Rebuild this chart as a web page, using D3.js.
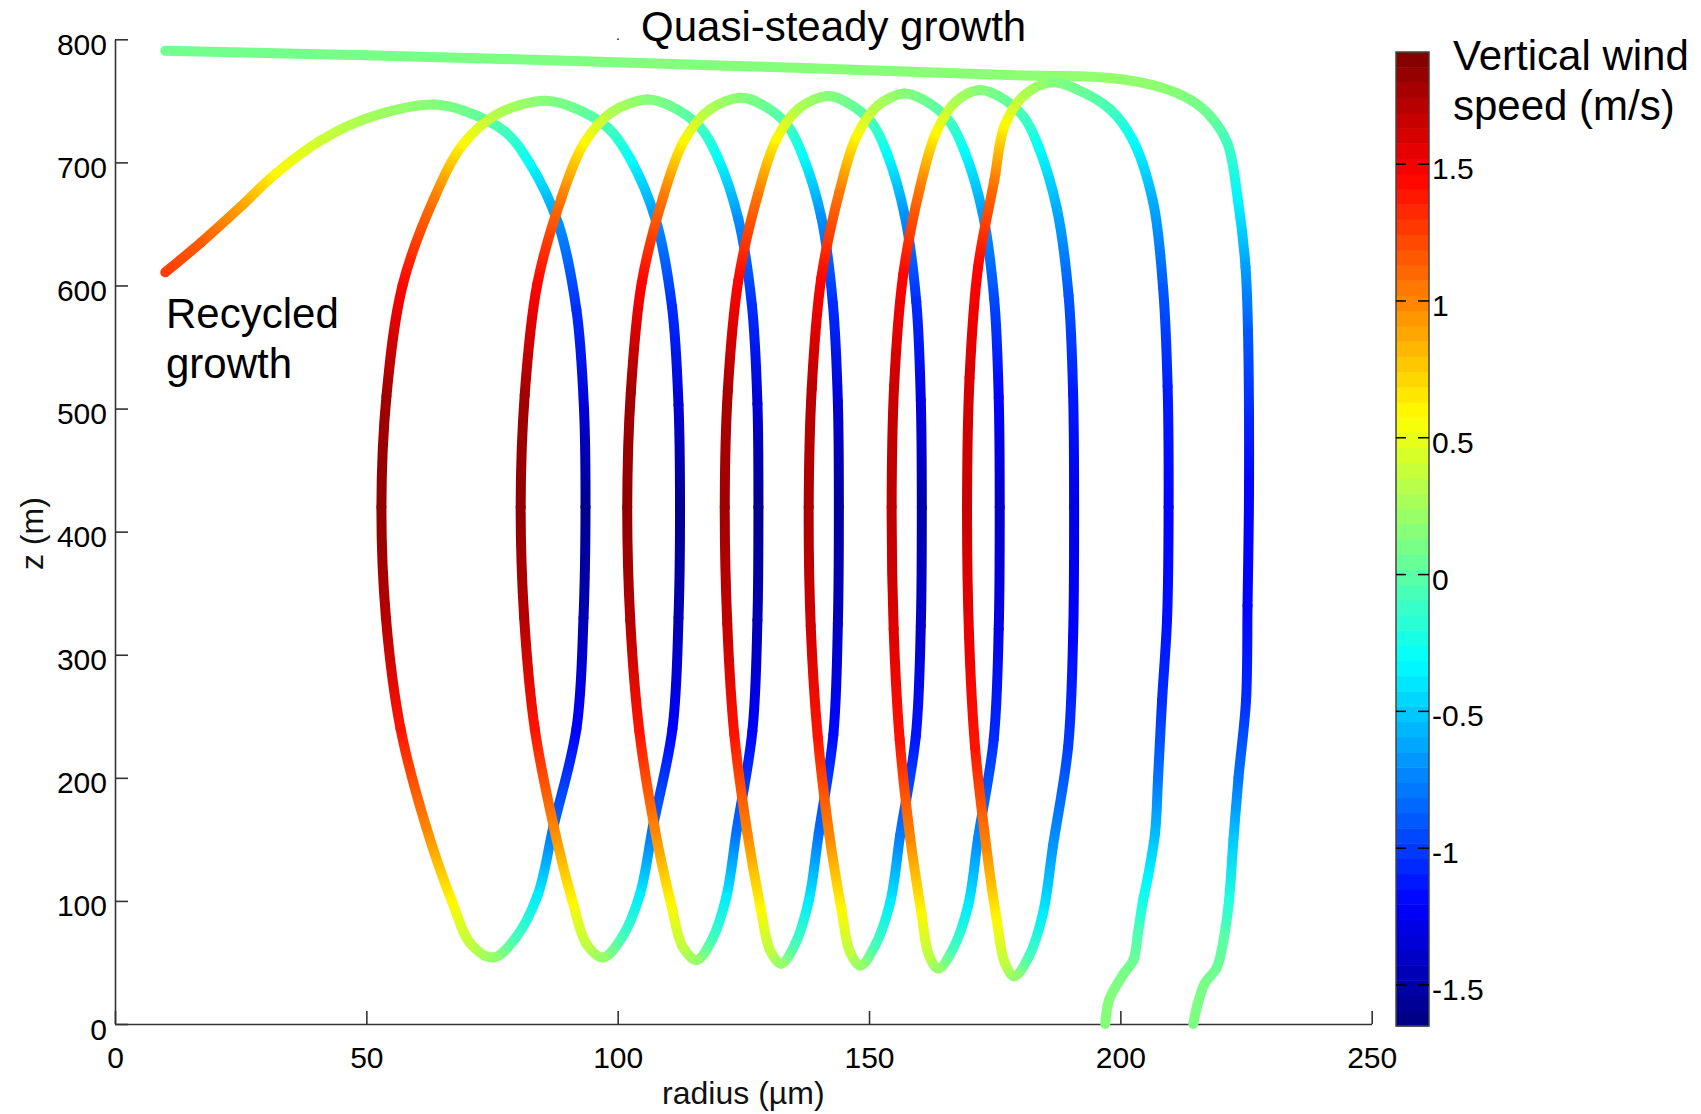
<!DOCTYPE html>
<html lang="en">
<head>
<meta charset="UTF-8">
<title>Droplet radius vs height</title>
<script src="https://d3js.org/d3.v7.min.js"></script>
<style>
  html, body { margin: 0; padding: 0; background: #fff; }
  svg { display: block; font-family: "Liberation Sans", Arial, Helvetica, sans-serif; }
  .axis text { font-size: 30px; fill: #000; }
  .axis path, .axis line { stroke: #333; stroke-width: 1.6; }
  .note { font-size: 42px; fill: #000; }
  .axlabel { font-size: 32px; fill: #111; }
</style>
</head>
<body>
<svg id="chart" width="1701" height="1114"></svg>
<script>
// axis ticks
const xTicks = [0, 50, 100, 150, 200, 250];
const yTicks = [0, 100, 200, 300, 400, 500, 600, 700, 800];
const cbTicks = [-1.5, -1, -0.5, 0, 0.5, 1, 1.5];
const cbRange = [-1.65, 1.91];

// recycled droplet: radius (um), height (m), vertical wind (m/s)
const recycledR = [
  10, 17, 25, 32, 41, 51, 63.4,
  69.4, 77.6, 82.4, 88.2, 91.8, 93.3, 93.6, 93.2, 91.8, 87.2, 84.1, 79.7, 75.3,
  70.8, 67.0, 61.9, 56.8, 53.9, 53.0, 54.0, 57.2, 63.4, 69.3, 76.4, 85.5,
  90.9, 98.1, 102.5, 107.6, 110.8, 112.1, 112.4, 112.1, 110.9, 107.0, 104.4, 100.8, 97.1,
  93.8, 91.0, 87.3, 83.5, 81.4, 80.7, 81.5, 84.0, 88.8, 93.4, 98.9, 106,
  110.4, 116.3, 119.9, 124.0, 126.7, 127.8, 128, 127.8, 126.8, 123.7, 121.6, 118.7, 115.7,
  112.9, 110.6, 107.4, 104.3, 102.5, 101.9, 102.6, 104.8, 109.1, 113.2, 118.2, 124.5,
  128.4, 133.7, 136.8, 140.5, 142.8, 143.8, 144, 143.8, 142.9, 140.0, 138.0, 135.3, 132.5,
  130.3, 128.4, 125.8, 123.2, 121.8, 121.3, 121.9, 124.0, 127.9, 131.6, 136.1, 141.8,
  145.5, 150.6, 153.6, 157.1, 159.4, 160.3, 160.5, 160.3, 159.3, 156.2, 154.2, 151.2, 148.3,
  146.2, 144.5, 142.1, 139.8, 138.4, 138, 138.6, 140.5, 144.1, 147.5, 151.7, 157,
  160.8, 165.9, 169.0, 172.6, 174.9, 175.8, 176, 175.8, 174.8, 171.7, 169.7, 166.7, 163.8,
  161.9, 160.4, 158.2, 156.1, 154.9, 154.5, 155.0, 156.8, 160.1, 163.3, 167.1, 172,
  175.8, 180.8, 183.8, 187.4, 189.7, 190.6, 190.8, 190.6, 189.6, 186.6, 184.6, 181.8, 178.9,
  177.0, 175.4, 173.3, 171.1, 169.9, 169.5, 170.0, 171.7, 174.9, 177.0, 181.0, 186.4,
  191.0, 198.0, 202.5, 206.5, 208.5, 209.4, 209.6, 209.3, 208.3, 207.5, 206.9, 205.5, 204.5, 203.5, 202.6, 200.7, 197.8, 197.0
];
const recycledZ = [
  610.7, 634.5, 664, 691, 718, 737, 747,
  742, 725, 700, 650, 580, 500, 420, 330, 240, 160, 105, 70, 54,
  65, 100, 160, 240, 330, 420, 510, 600, 670, 715, 740, 750,
  745, 728, 703, 653, 583, 503, 420, 330, 240, 160, 105, 70, 54,
  65, 100, 160, 240, 330, 420, 511, 601, 671, 716, 741, 751,
  746, 729, 704, 654, 584, 504, 420, 328, 238, 158, 103, 68, 52,
  63, 98, 158, 238, 328, 420, 512.6, 602.6, 672.6, 717.6, 742.6, 752.6,
  747.6, 730.6, 705.6, 655.6, 585.6, 505.6, 420, 325, 235, 155, 100, 65, 49,
  60, 95, 155, 235, 325, 420, 514, 604, 674, 719, 744, 754,
  749, 732, 707, 657, 587, 507, 420, 323.6, 233.6, 153.6, 98.6, 63.6, 47.6,
  58.6, 93.6, 153.6, 233.6, 323.6, 420, 516, 606, 676, 721, 746, 756,
  751, 734, 709, 659, 589, 509, 420, 321, 231, 151, 96, 61, 45,
  56, 91, 151, 231, 321, 420, 518.8, 608.8, 678.8, 723.8, 748.8, 758.8,
  753.8, 736.8, 711.8, 661.8, 591.8, 511.8, 420, 314.8, 224.8, 144.8, 89.8, 54.8, 38.8,
  49.8, 84.8, 144.8, 224.8, 314.8, 420, 525, 615, 685, 730, 755, 765,
  760, 743, 718, 668, 598, 518, 420, 330, 263, 200, 155, 120, 100, 74, 52, 41, 20, 0
];
const recycledW = [
  1.25, 1.15, 0.9, 0.6, 0.4, 0.25, 0.15,
  0.08, -0.08, -0.3, -0.7, -1.05, -1.35, -1.6, -1.47, -1.22, -0.83, -0.38, -0.08, 0.2,
  0.35, 0.6, 1.0, 1.4, 1.72, 1.85, 1.79, 1.45, 1.05, 0.6, 0.3, 0.15,
  0.08, -0.08, -0.3, -0.7, -1.05, -1.35, -1.6, -1.47, -1.22, -0.83, -0.38, -0.08, 0.2,
  0.35, 0.6, 1.0, 1.4, 1.72, 1.85, 1.79, 1.45, 1.05, 0.6, 0.3, 0.15,
  0.08, -0.08, -0.3, -0.7, -1.05, -1.35, -1.6, -1.47, -1.22, -0.83, -0.38, -0.08, 0.2,
  0.35, 0.6, 1.0, 1.4, 1.72, 1.85, 1.79, 1.45, 1.05, 0.6, 0.3, 0.15,
  0.08, -0.08, -0.3, -0.7, -1.05, -1.35, -1.55, -1.43, -1.18, -0.81, -0.38, -0.08, 0.2,
  0.35, 0.6, 1.0, 1.4, 1.67, 1.8, 1.75, 1.45, 1.05, 0.6, 0.3, 0.15,
  0.08, -0.08, -0.3, -0.7, -1.05, -1.3, -1.5, -1.38, -1.14, -0.78, -0.38, -0.08, 0.2,
  0.35, 0.6, 1.0, 1.4, 1.63, 1.75, 1.7, 1.45, 1.05, 0.6, 0.3, 0.15,
  0.08, -0.08, -0.3, -0.65, -0.95, -1.2, -1.4, -1.29, -1.06, -0.73, -0.38, -0.08, 0.2,
  0.35, 0.6, 1.0, 1.4, 1.58, 1.7, 1.65, 1.45, 1.05, 0.6, 0.3, 0.15,
  0.08, -0.08, -0.3, -0.6, -0.9, -1.12, -1.3, -1.2, -0.99, -0.68, -0.38, -0.08, 0.2,
  0.35, 0.6, 1.0, 1.4, 1.53, 1.65, 1.6, 1.45, 1.05, 0.6, 0.3, 0.15,
  0.08, -0.08, -0.3, -0.6, -0.9, -1.1, -1.2, -1.15, -1.05, -0.8, -0.55, -0.35, -0.25, -0.05, 0.05, 0.1, 0.15, 0.15
];

// quasi-steady droplet
const steadyR = [10, 50, 96.5, 137, 177.6, 198, 208, 214, 218, 221.3, 223.4, 224.9, 225.4, 225.6,
  225.3, 225, 223.5, 222.5, 221.6, 220.6, 219.2, 216.8, 215.3, 214.5];
const steadyZ = [790.7, 787, 781.8, 776.6, 771, 768.5, 761, 750.6, 737, 715.5, 669, 615, 561, 440,
  340, 263, 200, 150, 100, 70, 46, 33, 15, 0];
const steadyW = [0.08, 0.1, 0.13, 0.15, 0.17, 0.2, 0.18, 0.12, 0.05, -0.1, -0.35, -0.65, -0.9, -1.2,
  -1.2, -1.05, -0.8, -0.5, -0.2, 0.0, 0.05, 0.1, 0.12, 0.12];

const svg = d3.select('#chart');
const defs = svg.append('defs');

const x = d3.scaleLinear().domain([0, 250]).range([115, 1371.7]);
const y = d3.scaleLinear().domain([0, 800]).range([1024, 39.3]);

// MATLAB jet colormap
function jet(t) {
  const c = v => Math.max(0, Math.min(1, v));
  const r = c(Math.min(4 * t - 1.5, -4 * t + 4.5));
  const g = c(Math.min(4 * t - 0.5, -4 * t + 3.5));
  const b = c(Math.min(4 * t + 0.5, -4 * t + 2.5));
  return d3.rgb(r * 255, g * 255, b * 255).formatHex();
}
const color = d3.scaleSequential(jet).domain(cbRange).clamp(true);

// axes
svg.append('g')
  .attr('class', 'axis')
  .attr('transform', `translate(0,${y(0)})`)
  .call(d3.axisBottom(x).tickValues(xTicks).tickSizeInner(-13).tickSizeOuter(0).tickPadding(23));

svg.append('g')
  .attr('class', 'axis')
  .attr('transform', `translate(${x(0)},0)`)
  .call(d3.axisLeft(y).tickValues(yTicks).tickSizeInner(-13).tickSizeOuter(0).tickPadding(8))
  .selectAll('text').attr('dy', '0.5em');

svg.append('text').attr('class', 'axlabel')
  .attr('x', (x(0) + x(250)) / 2).attr('y', 1104)
  .attr('text-anchor', 'middle').text('radius (\u00b5m)');

svg.append('text').attr('class', 'axlabel')
  .attr('transform', `translate(43,${(y(0) + y(800)) / 2 + 2}) rotate(-90)`)
  .attr('text-anchor', 'middle').text('z (m)');

// trajectories, segment by segment with colour gradient
const lineGen = d3.line()
  .x(d => x(d[0]))
  .y(d => y(d[1]))
  .curve(d3.curveCatmullRom.alpha(0.5));

function drawTrack(rs, zs, ws, id) {
  const pts = rs.map((r, i) => [r, zs[i]]);
  const g = svg.append('g');
  for (let i = 0; i < pts.length - 1; i++) {
    const lo = Math.max(0, i - 1);
    const hi = Math.min(pts.length - 1, i + 2);
    const parts = lineGen(pts.slice(lo, hi + 1)).split('C');
    const seg = parts[i - lo + 1];
    const gid = `${id}-${i}`;
    const grad = defs.append('linearGradient')
      .attr('id', gid)
      .attr('gradientUnits', 'userSpaceOnUse')
      .attr('x1', x(pts[i][0])).attr('y1', y(pts[i][1]))
      .attr('x2', x(pts[i + 1][0])).attr('y2', y(pts[i + 1][1]));
    grad.append('stop').attr('offset', 0).attr('stop-color', color(ws[i]));
    grad.append('stop').attr('offset', 1).attr('stop-color', color(ws[i + 1]));
    g.append('path')
      .attr('d', `M${x(pts[i][0])},${y(pts[i][1])}C${seg}`)
      .attr('fill', 'none')
      .attr('stroke', `url(#${gid})`)
      .attr('stroke-width', 10)
      .attr('stroke-linecap', 'round');
  }
}

drawTrack(steadyR, steadyZ, steadyW, 'steady');
drawTrack(recycledR, recycledZ, recycledW, 'recycled');

// annotations
svg.append('text').attr('class', 'note').attr('x', 641).attr('y', 41).text('Quasi-steady growth');
svg.append('text').attr('x', 616).attr('y', 40).attr('font-size', 14).text('.');
svg.append('text').attr('class', 'note').attr('x', 166).attr('y', 328).text('Recycled');
svg.append('text').attr('class', 'note').attr('x', 166).attr('y', 378).text('growth');

// colour bar
const cbX = 1396, cbW = 33;
const yc = d3.scaleLinear().domain(cbRange).range([1026, 52]);
const nBands = 64;
const step = (cbRange[1] - cbRange[0]) / nBands;
const cb = svg.append('g');
cb.selectAll('rect')
  .data(d3.range(nBands))
  .join('rect')
  .attr('x', cbX)
  .attr('width', cbW)
  .attr('y', k => yc(cbRange[0] + (k + 1) * step))
  .attr('height', k => yc(cbRange[0] + k * step) - yc(cbRange[0] + (k + 1) * step) + 0.5)
  .attr('fill', k => jet((k + 0.5) / nBands));
cb.append('rect')
  .attr('x', cbX).attr('y', yc(cbRange[1]))
  .attr('width', cbW).attr('height', yc(cbRange[0]) - yc(cbRange[1]))
  .attr('fill', 'none').attr('stroke', '#444').attr('stroke-width', 1.5);
const cbt = cb.selectAll('.cbtick').data(cbTicks).join('g')
  .attr('class', 'cbtick')
  .attr('transform', d => `translate(0,${yc(d)})`);
cbt.append('line').attr('x1', cbX).attr('x2', cbX + 10).attr('stroke', '#000').attr('stroke-width', 1.5);
cbt.append('line').attr('x1', cbX + cbW - 11).attr('x2', cbX + cbW).attr('stroke', '#000').attr('stroke-width', 1.5);
cbt.append('text')
  .attr('x', 1432).attr('dy', '0.5em')
  .attr('font-size', 30)
  .text(d => String(d));

svg.append('text').attr('class', 'note').attr('x', 1453).attr('y', 70).text('Vertical wind');
svg.append('text').attr('class', 'note').attr('x', 1453).attr('y', 120).text('speed (m/s)');
</script>
</body>
</html>
